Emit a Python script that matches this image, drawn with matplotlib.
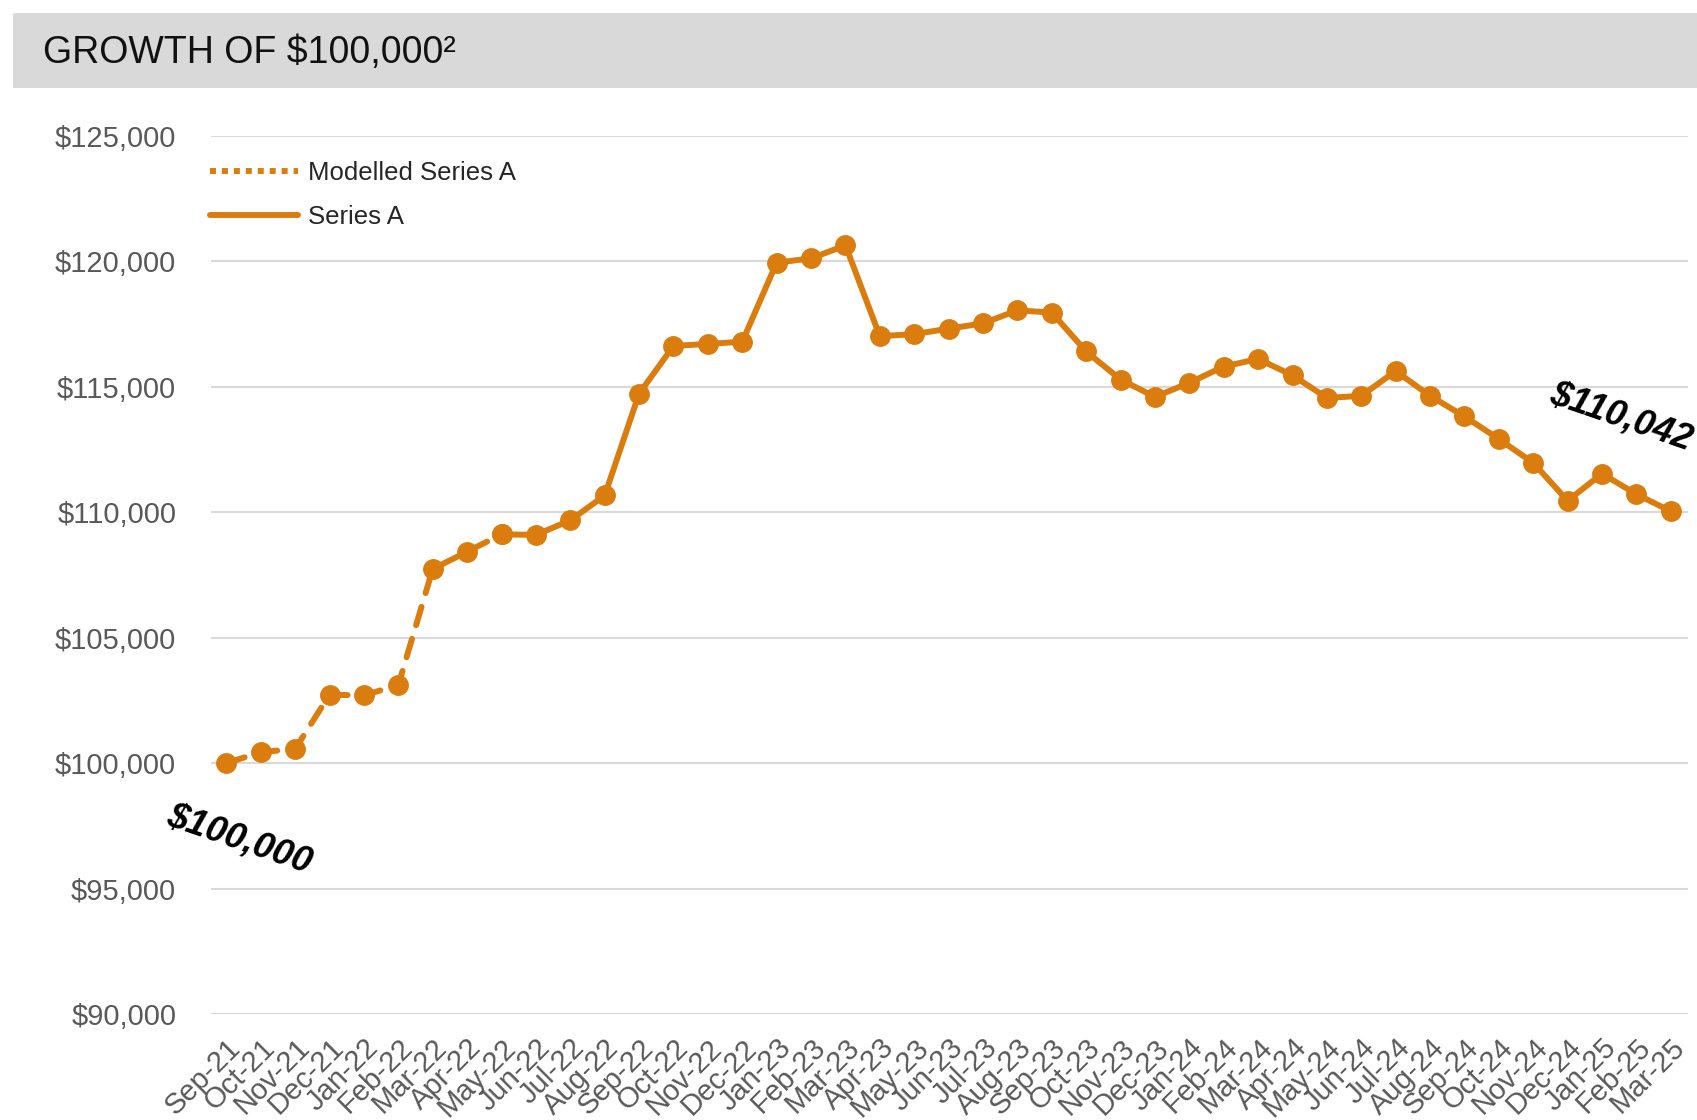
"""
Growth of $100,000 - line chart recreation
"""
import matplotlib.pyplot as plt
import numpy as np
from matplotlib.lines import Line2D
from matplotlib.patches import Rectangle

plt.rcParams['font.family'] = ['Liberation Sans', 'DejaVu Sans']

#------------------------------------data----------------------------------------------------------------

months = ["Sep-21", "Oct-21", "Nov-21", "Dec-21",
          "Jan-22", "Feb-22", "Mar-22", "Apr-22", "May-22", "Jun-22",
          "Jul-22", "Aug-22", "Sep-22", "Oct-22", "Nov-22", "Dec-22",
          "Jan-23", "Feb-23", "Mar-23", "Apr-23", "May-23", "Jun-23",
          "Jul-23", "Aug-23", "Sep-23", "Oct-23", "Nov-23", "Dec-23",
          "Jan-24", "Feb-24", "Mar-24", "Apr-24", "May-24", "Jun-24",
          "Jul-24", "Aug-24", "Sep-24", "Oct-24", "Nov-24", "Dec-24",
          "Jan-25", "Feb-25", "Mar-25"]

values = [100000, 100440, 100570, 102730,
          102700, 103120, 107740, 108430, 109120, 109100,
          109680, 110670, 114730, 116630, 116710, 116800,
          119950, 120120, 120640, 117020, 117100, 117320,
          117530, 118050, 117960, 116410, 115290, 114600,
          115160, 115810, 116110, 115460, 114560, 114640,
          115630, 114640, 113820, 112920, 111970, 110460,
          111540, 110720, 110042]

n_modelled = 9   # Sep-21 .. May-22 is the modelled part
yticks = [90000, 95000, 100000, 105000, 110000, 115000, 120000, 125000]

start_label = "$100,000"
end_label = "$110,042"

#------------------------------------plot----------------------------------------------------------------

orange = '#DA7D0E'
x = np.arange(len(values))
v = np.array(values)

fig = plt.figure(figsize=(16.97, 11.2), dpi=100)
fig.patch.set_facecolor('white')

# title band
fig.patches.append(Rectangle((0.0077, 0.921), 1.0, 0.067, transform=fig.transFigure,
                             facecolor='#d9d9d9', edgecolor='none', zorder=0))
fig.text(0.0253, 0.953, "GROWTH OF $100,000²", fontsize=27, color='#111111',
         ha='left', va='center')

ax = fig.add_axes([0.1243, 0.0946, 0.8704, 0.784])

ax.plot(x[:n_modelled], v[:n_modelled], color=orange, lw=4.3,
        linestyle=(0, (3.2, 2.4)), dash_capstyle='round',
        marker='o', markersize=14, zorder=3)
ax.plot(x[n_modelled - 1:], v[n_modelled - 1:], color=orange, lw=4.3,
        solid_capstyle='round', solid_joinstyle='round',
        marker='o', markersize=14, zorder=3)

ax.set_xlim(-0.45, 42.5)
ax.set_ylim(90000, 125000)
ax.set_yticks(yticks)
ax.set_yticklabels(["${:,}".format(t) for t in yticks])
ax.set_xticks(x)
ax.set_xticklabels(months, rotation=45, ha='right', va='top', rotation_mode='anchor')

ax.tick_params(axis='y', length=0, pad=25, labelsize=21, labelcolor='#595959')
ax.tick_params(axis='x', length=0, pad=14, labelsize=21, labelcolor='#595959')
ax.grid(axis='y', color='#d9d9d9', lw=1.5)
ax.set_axisbelow(True)
for s in ax.spines.values():
    s.set_visible(False)

# annotations of start and end values
ax.annotate(start_label, xy=(x[0], v[0]), xytext=(9, -55), textcoords='offset points',
            ha='center', va='center', rotation=-19, fontsize=26,
            fontweight='bold', fontstyle='italic', color='black')
ax.annotate(end_label, xy=(x[-1], v[-1]), xytext=(-36, 68), textcoords='offset points',
            ha='center', va='center', rotation=-19, fontsize=26,
            fontweight='bold', fontstyle='italic', color='black', annotation_clip=False)

# legend
handles = [Line2D([], [], color=orange, lw=4.3, linestyle=(0, (1, 1))),
           Line2D([], [], color=orange, lw=4.3, solid_capstyle='round')]
leg = ax.legend(handles, ["Modelled Series A", "Series A"], loc='upper left',
                bbox_to_anchor=(-0.016, 0.998), frameon=False, fontsize=18.5,
                handlelength=3.4, handletextpad=0.4, labelspacing=0.8)
for t in leg.get_texts():
    t.set_color('#262626')

plt.savefig("out.png", dpi=100)
